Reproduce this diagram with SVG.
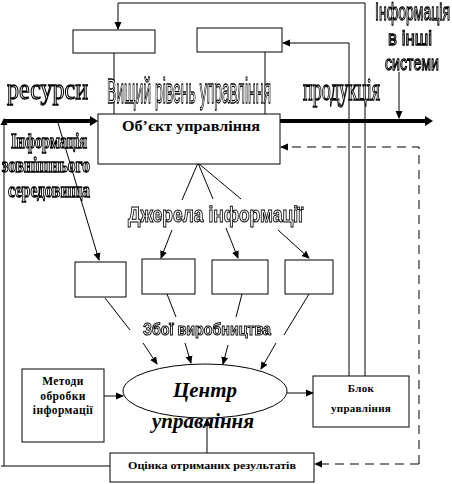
<svg xmlns="http://www.w3.org/2000/svg" width="452" height="484" viewBox="0 0 452 484">
<style>
.box{fill:#fff;stroke:#000;stroke-width:1}
.ln{fill:none;stroke:#000;stroke-width:1}
.thick{fill:none;stroke:#000;stroke-width:4}
.dash{fill:none;stroke:#000;stroke-width:1;stroke-dasharray:9,6}
.ol{fill:#fff;stroke:#000;stroke-width:1;vector-effect:non-scaling-stroke}
.sans{font-family:"Liberation Sans",Arial,sans-serif}
.serif{font-family:"Liberation Serif","Times New Roman",serif}
.bs{font-family:"Liberation Serif","Times New Roman",serif;font-weight:bold;fill:#000}
</style>
<defs>
<marker id="ah" markerWidth="8" markerHeight="8" refX="7" refY="4" orient="auto" markerUnits="userSpaceOnUse">
<path d="M0,0.5 L8,4 L0,7.5 z" fill="#000"/>
</marker>
<filter id="gs"><feColorMatrix type="saturate" values="0"/></filter>
</defs>
<rect width="452" height="484" fill="#fff"/>

<g id="connectors">
<polyline class="ln" points="365,376 365,3 118,3 118,29" marker-end="url(#ah)"/>
<polyline class="ln" points="349,376 349,43 283,43" marker-end="url(#ah)"/>
<line class="ln" x1="114" y1="53" x2="114" y2="114"/>
<line class="ln" x1="265" y1="52" x2="265" y2="114"/>
<line class="thick" x1="4" y1="121" x2="91" y2="121"/>
<path d="M90,116 L98,121 L90,126 z" fill="#000"/>
<line class="thick" x1="280" y1="121" x2="426" y2="121"/>
<path d="M425,116 L433,121 L425,126 z" fill="#000"/>
<line class="ln" x1="4" y1="466" x2="4" y2="124"/>
<path d="M0.5,125 L4,118 L7.5,125 z" fill="#000"/>
<line class="ln" x1="1" y1="466" x2="110" y2="466"/>
<line class="ln" x1="399" y1="72" x2="399" y2="118" marker-end="url(#ah)"/>
<polyline class="dash" points="419,464 419,147 281,147" marker-end="url(#ah)"/>
<line class="dash" x1="419" y1="464" x2="315" y2="464" marker-end="url(#ah)"/>
<line class="ln" x1="198" y1="163" x2="182" y2="200"/>
<line class="ln" x1="198" y1="163" x2="213" y2="199"/>
<line class="ln" x1="198" y1="163" x2="241" y2="199"/>
<line class="ln" x1="172" y1="230" x2="161" y2="258" marker-end="url(#ah)"/>
<line class="ln" x1="226" y1="228" x2="238" y2="258" marker-end="url(#ah)"/>
<line class="ln" x1="278" y1="230" x2="309" y2="258" marker-end="url(#ah)"/>
<line class="ln" x1="58" y1="123" x2="99" y2="260" marker-end="url(#ah)"/>
<line class="ln" x1="105" y1="298" x2="130" y2="330"/>
<line class="ln" x1="167" y1="294" x2="176" y2="317"/>
<line class="ln" x1="242" y1="294" x2="236" y2="317"/>
<line class="ln" x1="309" y1="294" x2="284" y2="335"/>
<line class="ln" x1="143" y1="343" x2="157" y2="364" marker-end="url(#ah)"/>
<line class="ln" x1="185" y1="343" x2="191" y2="363" marker-end="url(#ah)"/>
<line class="ln" x1="228" y1="345" x2="223" y2="364" marker-end="url(#ah)"/>
<line class="ln" x1="276" y1="343" x2="261" y2="369" marker-end="url(#ah)"/>
<line class="ln" x1="104" y1="396" x2="123" y2="396" marker-end="url(#ah)"/>
<line class="ln" x1="287" y1="393" x2="313" y2="393" marker-end="url(#ah)"/>
<line class="ln" x1="207" y1="453" x2="207" y2="419" marker-end="url(#ah)"/>
</g>

<g id="top-box-1"><rect class="box" x="73" y="30" width="82" height="23"/></g>
<g id="top-box-2"><rect class="box" x="197" y="28" width="85" height="24"/></g>
<g id="object"><rect class="box" x="98" y="114" width="182" height="50"/>
<text class="bs" x="122" y="131" font-size="14" textLength="138" lengthAdjust="spacingAndGlyphs">Об’єкт управління</text></g>
<g id="box-a"><rect class="box" x="75" y="262" width="51" height="35"/></g>
<g id="box-b"><rect class="box" x="142" y="259" width="53" height="35"/></g>
<g id="box-c"><rect class="box" x="212" y="260" width="56" height="34"/></g>
<g id="box-d"><rect class="box" x="285" y="260" width="48" height="34"/></g>
<g id="methods"><rect class="box" x="22" y="369" width="82" height="73"/>
<text class="bs" font-size="11.5" text-anchor="middle" letter-spacing="0.4"><tspan x="63" y="385">Методи</tspan><tspan x="63" y="400">обробки</tspan><tspan x="63" y="414">інформації</tspan></text></g>
<g id="center"><ellipse class="box" cx="205" cy="391" rx="82" ry="27"/>
<text class="bs" font-style="italic" font-size="21" text-anchor="middle"><tspan x="205" y="397">Центр</tspan><tspan x="203" y="428">управління</tspan></text></g>
<g id="block"><rect class="box" x="313" y="376" width="96" height="51"/>
<text class="bs" font-size="11" text-anchor="middle" letter-spacing="0.3"><tspan x="361" y="392">Блок</tspan><tspan x="361" y="412">управління</tspan></text></g>
<g id="evaluation"><rect class="box" x="110" y="453" width="204" height="29"/>
<text class="bs" font-size="11" x="128" y="469" textLength="168" lengthAdjust="spacingAndGlyphs">Оцінка отриманих результатів</text></g>

<g id="labels" filter="url(#gs)">
<g transform="scale(1,2)">
<text class="serif ol" x="7" y="49.5" font-size="15" textLength="81" lengthAdjust="spacingAndGlyphs">ресурси</text>
<text class="serif ol" x="303" y="50" font-size="16" textLength="77" lengthAdjust="spacingAndGlyphs">продукція</text>
<text class="sans ol" x="375" y="10" font-size="12" textLength="75" lengthAdjust="spacingAndGlyphs">Інформація</text>
<text class="sans ol" x="388" y="22.5" font-size="10.5" textLength="44" lengthAdjust="spacingAndGlyphs">в інші</text>
<text class="sans ol" x="385" y="35" font-size="10.5" textLength="54" lengthAdjust="spacingAndGlyphs">системи</text>
<text class="serif ol" font-weight="bold" x="11" y="74" font-size="10.5" textLength="76" lengthAdjust="spacingAndGlyphs">Інформація</text>
<text class="serif ol" font-weight="bold" x="2" y="86" font-size="11" textLength="88" lengthAdjust="spacingAndGlyphs">зовнішнього</text>
<text class="serif ol" font-weight="bold" x="8" y="98.5" font-size="11" textLength="82" lengthAdjust="spacingAndGlyphs">середовища</text>
</g>
<g transform="scale(1,2.3)">
<text class="sans ol" x="107" y="44.78" font-size="15.5" textLength="164" lengthAdjust="spacingAndGlyphs">Вищий рівень управління</text>
</g>
<text class="sans ol" font-weight="bold" x="128" y="222" font-size="22" textLength="175" lengthAdjust="spacingAndGlyphs">Джерела інформації</text>
<text class="sans ol" font-weight="bold" x="143" y="335" font-size="17" textLength="128" lengthAdjust="spacingAndGlyphs">Збої виробництва</text>
</g>
</svg>
